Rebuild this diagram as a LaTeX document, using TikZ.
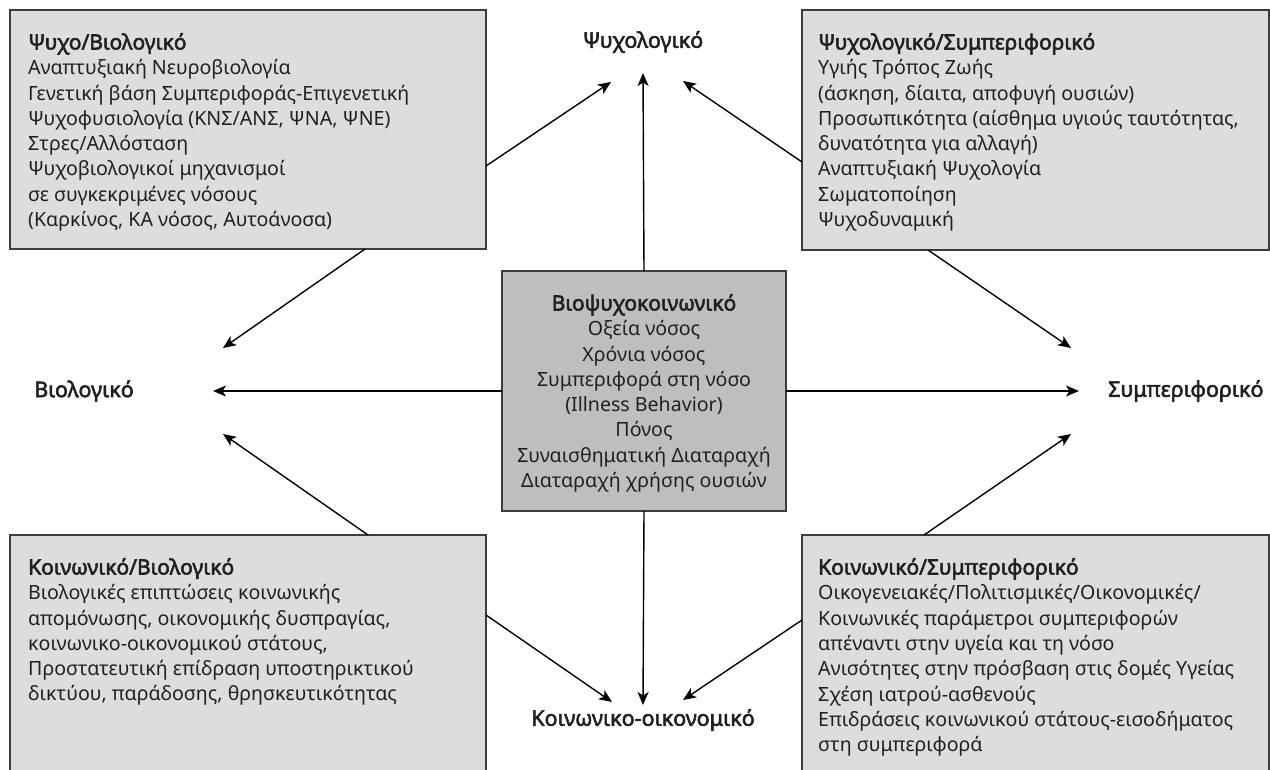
\documentclass[tikz,border=0pt]{standalone}
\usepackage{fontspec}
\setmainfont{Noto Sans}[BoldFont={Noto Sans},BoldFeatures={FakeBold=2.5}]
\usetikzlibrary{arrows.meta}
\definecolor{boxfill}{HTML}{DCDDDD}
\definecolor{centerfill}{HTML}{BDBFBF}
\definecolor{boxline}{HTML}{3C3C3C}
\definecolor{txt}{HTML}{231F20}
\newcommand\headtxt[1]{{\fontsize{21}{25.3}\selectfont\bfseries #1}}
\begin{document}
\begin{tikzpicture}[x=1pt,y=-1pt,
  panel/.style={draw=boxline,line width=2pt,fill=boxfill,anchor=north west,inner sep=0pt,outer sep=0pt},
  body/.style={anchor=north west,align=left,inner sep=0pt,text=txt,font=\fontsize{19.6}{25.3}\selectfont},
  cbody/.style={anchor=north,align=center,inner sep=0pt,text=txt,font=\fontsize{19.6}{25.3}\selectfont},
  lbl/.style={font=\bfseries\fontsize{21.5}{23}\selectfont,inner sep=0pt,text=txt},
  arr/.style={line width=1.4pt,-{Stealth[length=13pt,width=11pt,inset=3.5pt]}}]
\useasboundingbox (0,0) rectangle (1270,770);
\clip (0,0) rectangle (1270,770);
% boxes
\node[panel,minimum width=476pt,minimum height=239pt] (tl) at (10,10) {};
\node[panel,minimum width=467pt,minimum height=240pt] (tr) at (802,10) {};
\node[panel,fill=centerfill,minimum width=284pt,minimum height=240pt] (c) at (502,271) {};
\node[panel,minimum width=476pt,minimum height=245pt] (bl) at (10,535) {};
\node[panel,minimum width=467pt,minimum height=245pt] (br) at (802,535) {};
% texts
\node[body] (tlt) at (28,33) {\headtxt{Ψυχο/Βιολογικό}\\
Αναπτυξιακή Νευροβιολογία\\
Γενετική βάση Συμπεριφοράς-Επιγενετική\\
Ψυχοφυσιολογία (ΚΝΣ/ΑΝΣ, ΨΝΑ, ΨΝΕ)\\
Στρες/Αλλόσταση\\
Ψυχοβιολογικοί μηχανισμοί\\
σε συγκεκριμένες νόσους\\
(Καρκίνος, ΚΑ νόσος, Αυτοάνοσα)};
\node[body] (trt) at (818,33) {\headtxt{Ψυχολογικό/Συμπεριφορικό}\\
Υγιής Τρόπος Ζωής\\
(άσκηση, δίαιτα, αποφυγή ουσιών)\\
Προσωπικότητα (αίσθημα υγιούς ταυτότητας,\\
δυνατότητα για αλλαγή)\\
Αναπτυξιακή Ψυχολογία\\
Σωματοποίηση\\
Ψυχοδυναμική};
\node[cbody] (ct) at (644,294) {\headtxt{Βιοψυχοκοινωνικό}\\
Οξεία νόσος\\
Χρόνια νόσος\\
Συμπεριφορά στη νόσο\\
(Illness Behavior)\\
Πόνος\\
Συναισθηματική Διαταραχή\\
Διαταραχή χρήσης ουσιών};
\node[body] (blt) at (28,558) {\headtxt{Κοινωνικό/Βιολογικό}\\
Βιολογικές επιπτώσεις κοινωνικής\\
απομόνωσης, οικονομικής δυσπραγίας,\\
κοινωνικο-οικονομικού στάτους,\\
Προστατευτική επίδραση υποστηρικτικού\\
δικτύου, παράδοσης, θρησκευτικότητας};
\node[body] (brt) at (818,558) {\headtxt{Κοινωνικό/Συμπεριφορικό}\\
Οικογενειακές/Πολιτισμικές/Οικονομικές/\\
Κοινωνικές παράμετροι συμπεριφορών\\
απέναντι στην υγεία και τη νόσο\\
Ανισότητες στην πρόσβαση στις δομές Υγείας\\
Σχέση ιατρού-ασθενούς\\
Επιδράσεις κοινωνικού στάτους-εισοδήματος\\
στη συμπεριφορά};
% labels
\node[lbl] (psy) at (643,42) {Ψυχολογικό};
\node[lbl] (bio) at (84,391) {Βιολογικό};
\node[lbl,anchor=west] (beh) at (1108,391) {Συμπεριφορικό};
\node[lbl] (soc) at (643,720) {Κοινωνικο-οικονομικό};
% connector end points
\coordinate (s2) at (486,166); \coordinate (e2) at (611,82);
\coordinate (s3) at (802,162); \coordinate (e3) at (683,81);
\coordinate (s4) at (365,249); \coordinate (e4) at (223,348);
\coordinate (s5) at (928,250); \coordinate (e5) at (1071,348);
\coordinate (e6) at (213,391); \coordinate (s6) at (502,391);
\coordinate (e7) at (1079,391); \coordinate (s7) at (786,391);
\coordinate (s8) at (368,535); \coordinate (e8) at (223,434);
\coordinate (s9) at (924,535); \coordinate (e9) at (1071,434);
\coordinate (s10) at (486,615); \coordinate (e10) at (612,702);
\coordinate (s11) at (802,620); \coordinate (e11) at (683,700);
\coordinate (e1) at (643,73); \coordinate (e12) at (643,705);
% connectors
\draw[arr] (c.north) -- (e1);
\draw[arr] (s2) -- (e2);
\draw[arr] (s3) -- (e3);
\draw[arr] (s4) -- (e4);
\draw[arr] (s5) -- (e5);
\draw[arr] (s6) -- (e6);
\draw[arr] (s7) -- (e7);
\draw[arr] (s8) -- (e8);
\draw[arr] (s9) -- (e9);
\draw[arr] (s10) -- (e10);
\draw[arr] (s11) -- (e11);
\draw[arr] (c.south) -- (e12);
\end{tikzpicture}
\end{document}
